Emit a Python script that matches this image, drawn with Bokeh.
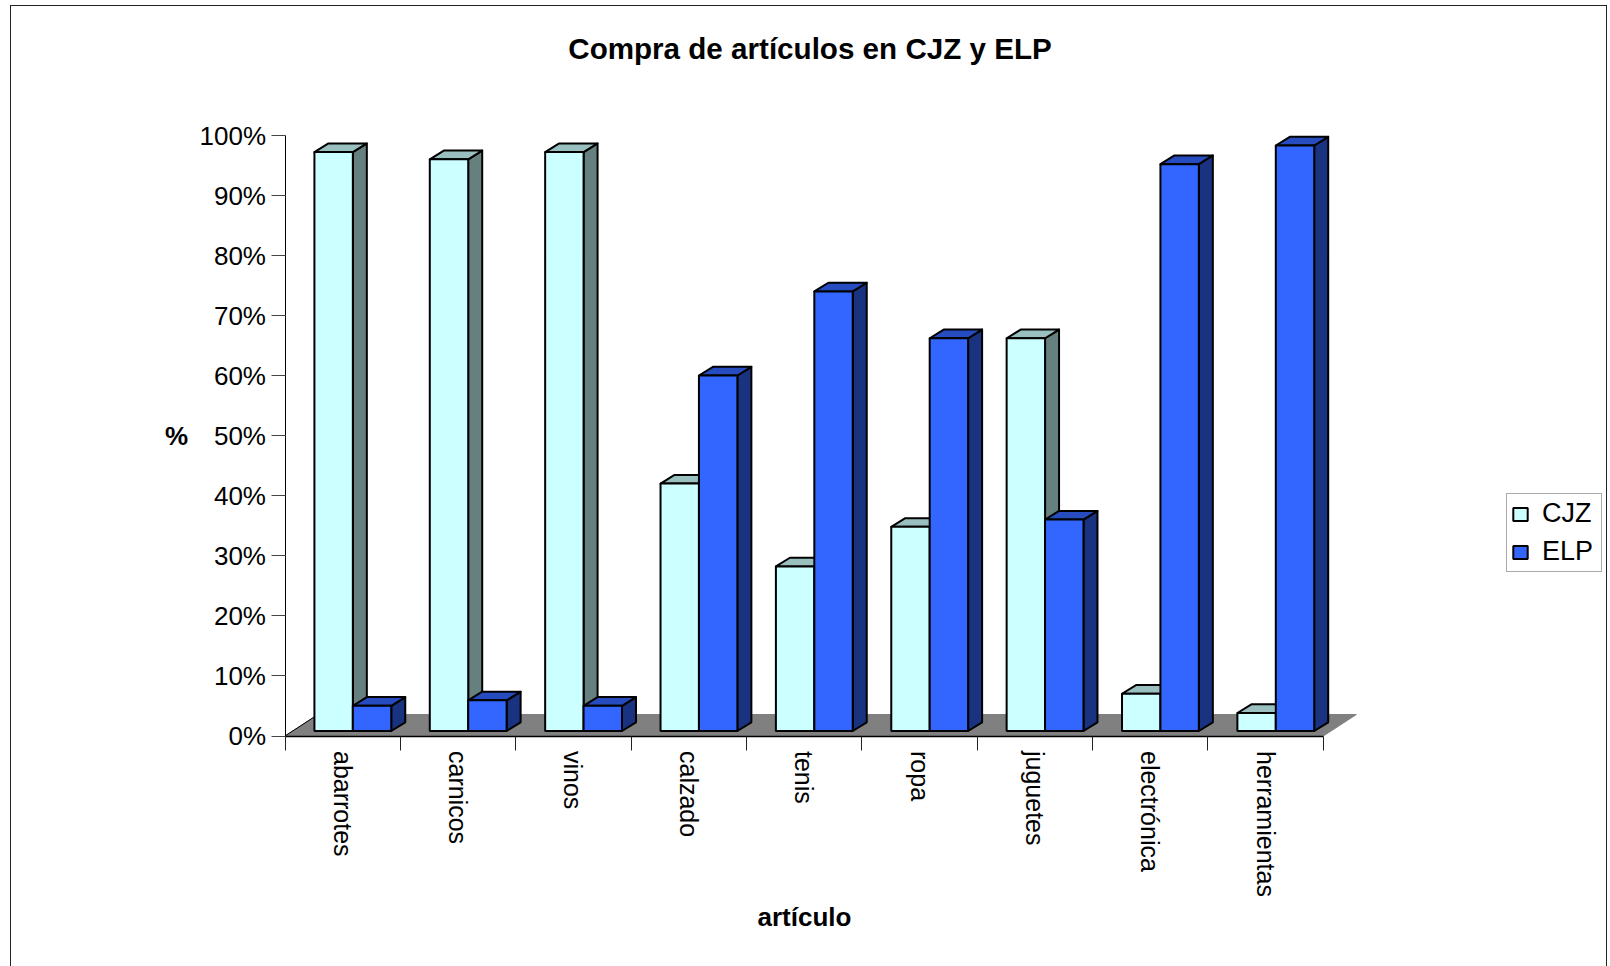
from bokeh.plotting import figure
from bokeh.models import Range1d, LinearAxis, FixedTicker, Legend, LegendItem
from bokeh.embed import file_html
from bokeh.resources import INLINE
import math

categories = ["abarrotes", "carnicos", "vinos", "calzado", "tenis", "ropa", "juguetes", "electrónica", "herramientas"]
cjz = [96.4, 95.2, 96.4, 41.2, 27.4, 34.0, 65.4, 6.2, 3.0]
elp = [4.2, 5.1, 4.2, 59.2, 73.2, 65.4, 35.2, 94.4, 97.5]
y_ticks = [0, 10, 20, 30, 40, 50, 60, 70, 80, 90, 100]
title = "Compra de artículos en CJZ y ELP"

# layout (page pixels)
FIG_LEFT, FIG_TOP, W, H, BORDER_TOP = 10, 5, 1597, 961, 58
EDGE = 1.5  # chart frame line drawn round the figure
X0, PX_CAT = 285.0, 115.37
Y0, PX_PCT = 736.0, 6.005
inner_left = FIG_LEFT + EDGE
inner_right = inner_left + W
x_start = (inner_left - X0) / PX_CAT
x_end = (inner_right - X0) / PX_CAT
y_end = (Y0 - (FIG_TOP + EDGE + BORDER_TOP)) / PX_PCT
y_start = (Y0 - (FIG_TOP + EDGE + H)) / PX_PCT

# 3-D geometry in data units
BAR_OFF, BAR_W = 0.255, 0.333
BASE = 5.0 / PX_PCT
DX, DY = 14.0 / PX_CAT, 8.7 / PX_PCT
FLOOR_DX, FLOOR_DY = 33.0 / PX_CAT, 21.5 / PX_PCT
n = len(categories)

FRAME_LINE = f"{EDGE}px solid #222222"
p = figure(width=W, height=H, output_backend="svg", toolbar_location=None,
           x_range=Range1d(x_start, x_end), y_range=Range1d(y_start, y_end),
           x_axis_type=None, y_axis_type=None,
           min_border_left=0, min_border_right=0, min_border_top=BORDER_TOP, min_border_bottom=0,
           background_fill_color="white", border_fill_color="white",
           styles={"margin-left": f"{FIG_LEFT}px", "margin-top": f"{FIG_TOP}px",
                   "border-left": FRAME_LINE, "border-top": FRAME_LINE, "border-right": FRAME_LINE})
p.grid.visible = False
p.outline_line_color = None

p.title.text = title
p.title.align = "center"
p.title.text_font = "Liberation Sans"
p.title.text_font_size = "29.6px"
p.title.text_font_style = "bold"
p.title.text_color = "black"
p.title.standoff = 0

# floor
p.patch([0, n, n + FLOOR_DX, FLOOR_DX], [0, 0, FLOOR_DY, FLOOR_DY],
        fill_color="#808080", line_color="#808080", line_width=1)
p.line([0, FLOOR_DX], [0, FLOOR_DY], line_color="black", line_width=1)


def bars(values, offset, front, top_c, side):
    lefts = [i + offset for i in range(n)]
    rights = [l + BAR_W for l in lefts]
    tops = [BASE + v for v in values]
    p.patches([[r, r + DX, r + DX, r] for r in rights],
              [[BASE, BASE + DY, t + DY, t] for t in tops],
              fill_color=side, line_color="black", line_width=2, line_join="round")
    p.patches([[l, l + DX, r + DX, r] for l, r in zip(lefts, rights)],
              [[t, t + DY, t + DY, t] for t in tops],
              fill_color=top_c, line_color="black", line_width=2, line_join="round")
    return p.vbar(x=[(l + r) / 2 for l, r in zip(lefts, rights)], width=BAR_W,
                  bottom=BASE, top=tops, fill_color=front, line_color="black", line_width=2)


r_cjz = bars(cjz, BAR_OFF, "#CCFFFF", "#99BFBF", "#668080")
r_elp = bars(elp, BAR_OFF + BAR_W, "#3366FF", "#264CBF", "#1A3380")

# axes
ax_y = LinearAxis(ticker=FixedTicker(ticks=y_ticks), bounds=(0, 100), fixed_location=0,
                  major_label_overrides={t: f"{t}%" for t in y_ticks},
                  major_label_text_font="Liberation Sans", major_label_text_font_size="26px",
                  major_label_text_color="black", major_label_standoff=5,
                  major_tick_out=14, major_tick_in=0, minor_tick_out=0, minor_tick_in=0,
                  major_tick_line_color="#444444", axis_line_color="black", axis_line_width=1,
                  axis_label="%", axis_label_text_font="Liberation Sans", axis_label_text_font_size="26px",
                  axis_label_text_font_style="bold", axis_label_text_color="black",
                  axis_label_standoff=9, axis_label_orientation="horizontal")
p.add_layout(ax_y, "left")

centers = [i + 0.5 for i in range(n)]
ax_x = LinearAxis(ticker=FixedTicker(ticks=centers, minor_ticks=list(range(n + 1))), bounds=(0, n), fixed_location=0,
                  major_label_overrides=dict(zip(centers, categories)),
                  major_label_orientation=-math.pi / 2,
                  major_label_text_font="Liberation Sans", major_label_text_font_size="25px",
                  major_label_text_color="black", major_label_standoff=1,
                  major_tick_out=0, major_tick_in=0, minor_tick_out=14, minor_tick_in=0,
                  minor_tick_line_color="#222222", axis_line_color="black", axis_line_width=1.5,
                  axis_label="artículo", axis_label_text_font="Liberation Sans", axis_label_text_font_size="26px",
                  axis_label_text_font_style="bold", axis_label_text_color="black",
                  axis_label_standoff=2)
p.add_layout(ax_x, "below")

legend = Legend(items=[LegendItem(label="CJZ", renderers=[r_cjz]), LegendItem(label="ELP", renderers=[r_elp])],
                location=(int(1507 - inner_left), FIG_TOP + H - 571), orientation="vertical",
                glyph_width=18, glyph_height=16, label_standoff=13, label_width=55, padding=4, spacing=7, margin=0,
                label_text_font="Liberation Sans", label_text_font_size="27px", label_text_color="black",
                border_line_color="#555555", border_line_width=1.5, background_fill_color="white",
                background_fill_alpha=1)
p.add_layout(legend, "center")

open("out.html", "w").write(file_html(p, INLINE))
